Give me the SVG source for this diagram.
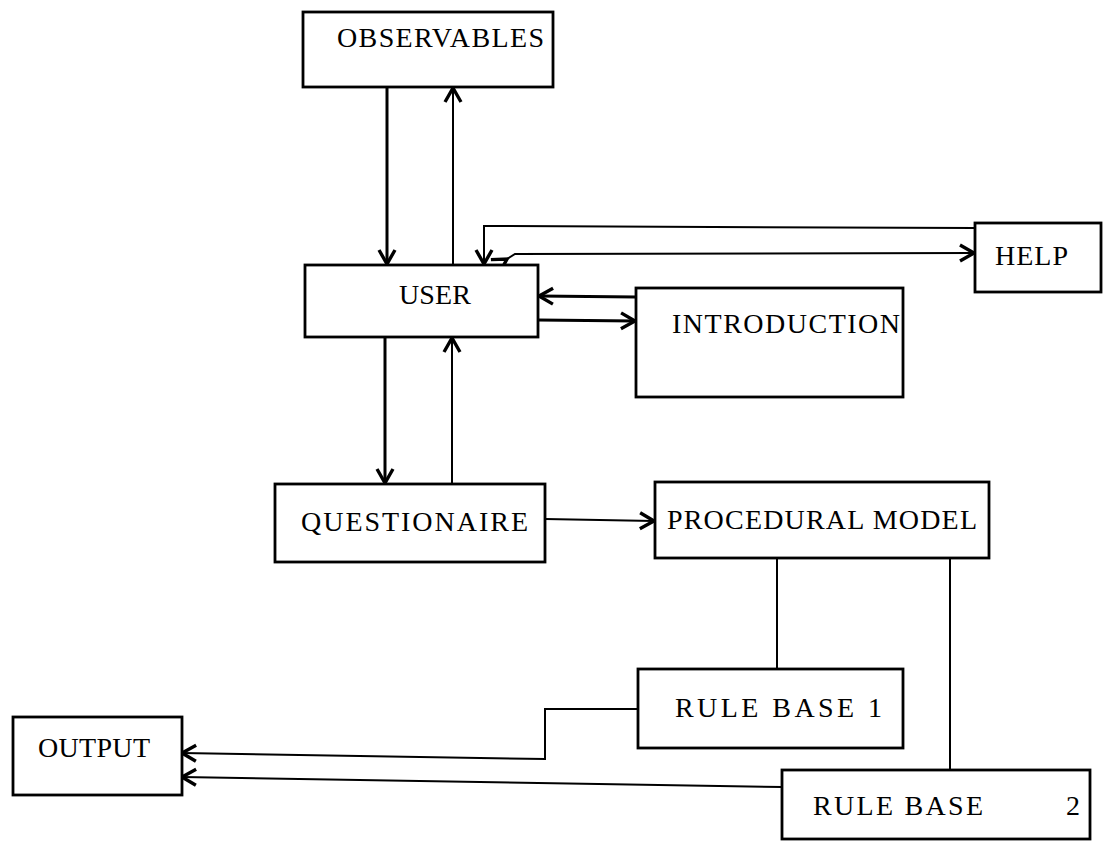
<svg xmlns="http://www.w3.org/2000/svg" width="1106" height="845" viewBox="0 0 1106 845">
  <style>
    .box { fill: #fff; stroke: #000; stroke-width: 2.8; }
    .lbl { font-family: "Liberation Serif", "DejaVu Serif", serif; font-size: 28px; fill: #000; }
    .ln { fill: none; stroke: #000; stroke-width: 2; }
    .thick { stroke-width: 3; }
  </style>
  <defs>
    <marker id="ah" viewBox="0 0 20 20" refX="17" refY="10" markerWidth="20" markerHeight="20" markerUnits="userSpaceOnUse" orient="auto">
      <path d="M3,2 L17,10 L3,18" fill="none" stroke="#000" stroke-width="3.4" stroke-linejoin="miter"/>
    </marker>
  </defs>
  <rect width="1106" height="845" fill="#fff"/>

  <g id="connectors">
    <!-- observables <-> user -->
    <path class="ln thick" d="M387,87 V264" marker-end="url(#ah)"/>
    <path class="ln" d="M453,265 V88" marker-end="url(#ah)"/>
    <!-- help -> user -->
    <path class="ln" d="M975,228 L484,226 V264" marker-end="url(#ah)"/>
    <!-- user <-> help -->
    <path class="ln" d="M507,259 L515,254 L974,253" marker-start="url(#ah)" marker-end="url(#ah)"/>
    <!-- user <-> introduction -->
    <path class="ln thick" d="M636,297 L539,296" marker-end="url(#ah)"/>
    <path class="ln thick" d="M538,320 L635,321" marker-end="url(#ah)"/>
    <!-- user <-> questionaire -->
    <path class="ln thick" d="M385,337 V483" marker-end="url(#ah)"/>
    <path class="ln" d="M452,484 V338" marker-end="url(#ah)"/>
    <!-- questionaire -> procedural model -->
    <path class="ln" d="M545,519 L654,521" marker-end="url(#ah)"/>
    <!-- procedural model to rule bases -->
    <path class="ln" d="M777,558 V669"/>
    <path class="ln" d="M950,558 V770"/>
    <!-- rule bases -> output -->
    <path class="ln" d="M638,709 H545 V759 L182,753" marker-end="url(#ah)"/>
    <path class="ln" d="M782,787 L182,777" marker-end="url(#ah)"/>
  </g>

  <g id="observables">
    <rect class="box" x="303" y="12" width="250" height="75"/>
    <text class="lbl" x="337" y="47" textLength="207" lengthAdjust="spacing">OBSERVABLES</text>
  </g>
  <g id="user">
    <rect class="box" x="305" y="265" width="233" height="72"/>
    <text class="lbl" x="399" y="304" textLength="72" lengthAdjust="spacing">USER</text>
  </g>
  <g id="help">
    <rect class="box" x="975" y="223" width="126" height="69"/>
    <text class="lbl" x="995" y="265" textLength="73" lengthAdjust="spacing">HELP</text>
  </g>
  <g id="introduction">
    <rect class="box" x="636" y="288" width="267" height="109"/>
    <text class="lbl" x="672" y="333" textLength="228" lengthAdjust="spacing">INTRODUCTION</text>
  </g>
  <g id="questionaire">
    <rect class="box" x="275" y="484" width="270" height="78"/>
    <text class="lbl" x="301" y="531" textLength="227" lengthAdjust="spacing">QUESTIONAIRE</text>
  </g>
  <g id="procedural-model">
    <rect class="box" x="655" y="482" width="334" height="76"/>
    <text class="lbl" x="667" y="529" textLength="310" lengthAdjust="spacing">PROCEDURAL MODEL</text>
  </g>
  <g id="rule-base-1">
    <rect class="box" x="638" y="669" width="265" height="79"/>
    <text class="lbl" x="675" y="717" textLength="207" lengthAdjust="spacing">RULE BASE 1</text>
  </g>
  <g id="rule-base-2">
    <rect class="box" x="782" y="770" width="308" height="69"/>
    <text class="lbl" x="813" y="815"><tspan textLength="170" lengthAdjust="spacing">RULE BASE</tspan> <tspan x="1066">2</tspan></text>
  </g>
  <g id="output">
    <rect class="box" x="13" y="717" width="169" height="78"/>
    <text class="lbl" x="38" y="757" textLength="112" lengthAdjust="spacing">OUTPUT</text>
  </g>
</svg>
